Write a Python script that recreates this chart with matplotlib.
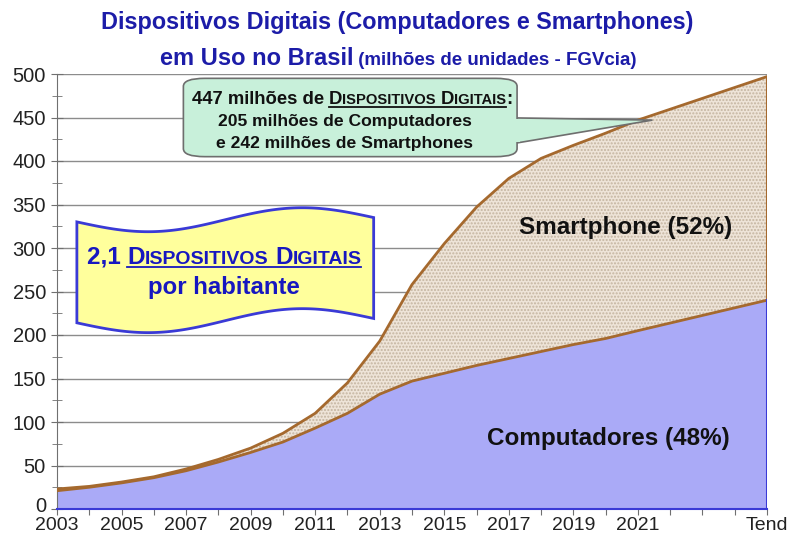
import numpy as np
import matplotlib
matplotlib.use("Agg")
import matplotlib.pyplot as plt
from matplotlib.patches import FancyBboxPatch, Polygon
from matplotlib.lines import Line2D
from matplotlib.transforms import ScaledTranslation

plt.rcParams['font.family'] = ['Liberation Sans', 'DejaVu Sans']

# dados (milhões de unidades) - ultimo ponto = tendencia
anos = [2003, 2004, 2005, 2006, 2007, 2008, 2009, 2010, 2011, 2012,
        2013, 2014, 2015, 2016, 2017, 2018, 2019, 2020, 2021, 2025]
computadores = [21, 25, 30, 36, 44, 54, 65, 77, 93, 110,
                132, 147, 156, 165, 173, 181, 189, 196, 205, 240]
smartphones = [2, 1, 1, 1, 2, 3, 5, 10, 17, 35,
               61, 111, 149, 182, 207, 222, 229, 236, 242, 257]
tick_anos = list(range(2003, 2026))
tick_label_pos = [2003, 2005, 2007, 2009, 2011, 2013, 2015, 2017, 2019, 2021]

W, H = 790, 537
fig = plt.figure(figsize=(W / 100, H / 100), dpi=100)
ax = fig.add_axes([57 / W, 28 / H, 710 / W, 435 / H])

x = np.array(anos)
comp = np.array(computadores)
total = comp + np.array(smartphones)

brown = '#a5692e'
blue_edge = '#3a3ad6'

ax.fill_between(x, 0, comp, facecolor='#aaaaf7', lw=0, zorder=2)
ax.fill_between(x, comp, total, facecolor='#eee4d8', edgecolor='#c4b4a0',
                hatch='.....', lw=0, zorder=2)
ax.plot(x, total, color=brown, lw=2, zorder=4)
ax.plot(x, comp, color=brown, lw=2, zorder=4)
ax.plot([x[-1], x[-1]], [comp[-1], total[-1]], color=brown, lw=1.5, zorder=4)
ax.plot([x[-1], x[-1]], [0, comp[-1]], color=blue_edge, lw=1.5, zorder=4)

ax.set_xlim(2003, 2025)
ax.set_ylim(0, 500)
ax.set_yticks(range(0, 501, 50))
ax.set_yticks(range(0, 501, 25), minor=True)
ax.set_xticks(tick_anos)
ax.set_xticklabels([str(a) if a in tick_label_pos else ('Tend' if a == 2025 else '')
                    for a in tick_anos])
ax.yaxis.grid(True, color='#8c8c8c', lw=1)
ax.set_axisbelow(True)
for s in ['top', 'right']:
    ax.spines[s].set_visible(False)
ax.spines['left'].set_color('#707070')
ax.spines['bottom'].set_color(blue_edge)
ax.spines['bottom'].set_linewidth(1.5)
ax.spines['bottom'].set_zorder(5)
ax.tick_params(axis='y', which='both', direction='inout', colors='#707070',
               labelcolor='#222222', labelsize=14.5)
ax.tick_params(axis='y', which='major', length=9)
ax.tick_params(axis='y', which='minor', length=7)
ax.tick_params(axis='x', direction='out', length=4, colors='#707070',
               labelcolor='#222222', labelsize=14, pad=1.5)

# "0" um pouco acima para nao encostar em "2003"
zero_lbl = ax.yaxis.get_major_ticks()[0].label1
zero_lbl.set_transform(zero_lbl.get_transform() + ScaledTranslation(0, 4 / 100, fig.dpi_scale_trans))

# rotulos das areas
ax.text(0.801, 0.646, 'Smartphone (52%)', transform=ax.transAxes, ha='center', va='center',
        fontsize=17.5, weight='bold', color='#111111', zorder=6)
ax.text(0.777, 0.163, 'Computadores (48%)', transform=ax.transAxes, ha='center', va='center',
        fontsize=17.5, weight='bold', color='#111111', zorder=6)

# balao verde
green = '#c8f0da'
box = FancyBboxPatch((0.178, 0.81), 0.47, 0.18, transform=ax.transAxes,
                     boxstyle='round,pad=0,rounding_size=0.03', facecolor=green,
                     edgecolor='#6e6e6e', lw=1.2, zorder=7, mutation_aspect=435 / 710)
ax.add_patch(box)
tip = ax.transLimits.transform((2021.45, 447))
wedge = Polygon([(0.646, 0.899), (0.646, 0.841), tip], closed=True, transform=ax.transAxes,
                facecolor=green, edgecolor='#6e6e6e', lw=1.2, zorder=6.9)
ax.add_patch(wedge)
ax.add_patch(Polygon([(0.638, 0.897), (0.638, 0.843), (0.652, 0.843), (0.652, 0.897)],
                     closed=True, transform=ax.transAxes, facecolor=green,
                     edgecolor='none', zorder=7.1))

# bandeira amarela
t = np.linspace(0, 1, 120)
x0, wdt = 0.028, 0.418
xs = x0 + t * wdt
top = 0.66 - 0.025 * np.sin(2 * np.pi * t) + 0.01 * t
bot = 0.428 - 0.025 * np.sin(2 * np.pi * t) + 0.01 * t
pts = np.vstack([np.column_stack([xs, top]), np.column_stack([xs[::-1], bot[::-1]])])
ax.add_patch(Polygon(pts, closed=True, transform=ax.transAxes, facecolor='#ffff9c',
                     edgecolor=blue_edge, lw=2, zorder=7))


def rich(pieces, xc, yb, color, ul=None):
    r = fig.canvas.get_renderer()

    def width(s, size):
        a = fig.text(0, 0, '|' + s + '|', fontsize=size, weight='bold')
        b = fig.text(0, 0, '||', fontsize=size, weight='bold')
        wd = a.get_window_extent(r).width - b.get_window_extent(r).width
        a.remove()
        b.remove()
        return wd

    widths = [width(s, sz) for s, sz in pieces]
    xp = xc - sum(widths) / 2
    starts = []
    for (s, sz), wd in zip(pieces, widths):
        fig.text(xp / W, 1 - yb / H, s, fontsize=sz, weight='bold', color=color,
                 va='baseline', ha='left', zorder=10)
        starts.append(xp)
        xp += wd
    if ul:
        i, j = ul
        xa, xb = starts[i], starts[j] + widths[j]
        fig.add_artist(Line2D([xa / W, xb / W], [1 - (yb + 3) / H] * 2, color=color,
                              lw=1.3, transform=fig.transFigure, zorder=10))


def smallcaps(size):
    k = 0.8
    return [('D', size), ('ISPOSITIVOS', size * k), (' ', size),
            ('D', size), ('IGITAIS', size * k)]


title_c = '#1c1ca8'
rich([('Dispositivos Digitais (Computadores e Smartphones)', 16.8)], 397, 29, title_c)
rich([('em Uso no Brasil', 17), (' (milhões de unidades - FGVcia)', 13.5)], 398, 65, title_c)

rich([('447 milhões de ', 13.3)] + smallcaps(13.3) + [(':', 13.3)], 352, 104, '#111111',
     ul=(1, 5))
rich([('205 milhões de Computadores', 12.6)], 345, 126, '#111111')
rich([('e 242 milhões de Smartphones', 12.6)], 345, 148, '#111111')

wave_c = '#1717c0'
rich([('2,1 ', 17.5)] + smallcaps(17.5), 224, 264, wave_c, ul=(1, 5))
rich([('por habitante', 17.3)], 224, 294, wave_c)

fig.savefig('out.png', dpi=100)
